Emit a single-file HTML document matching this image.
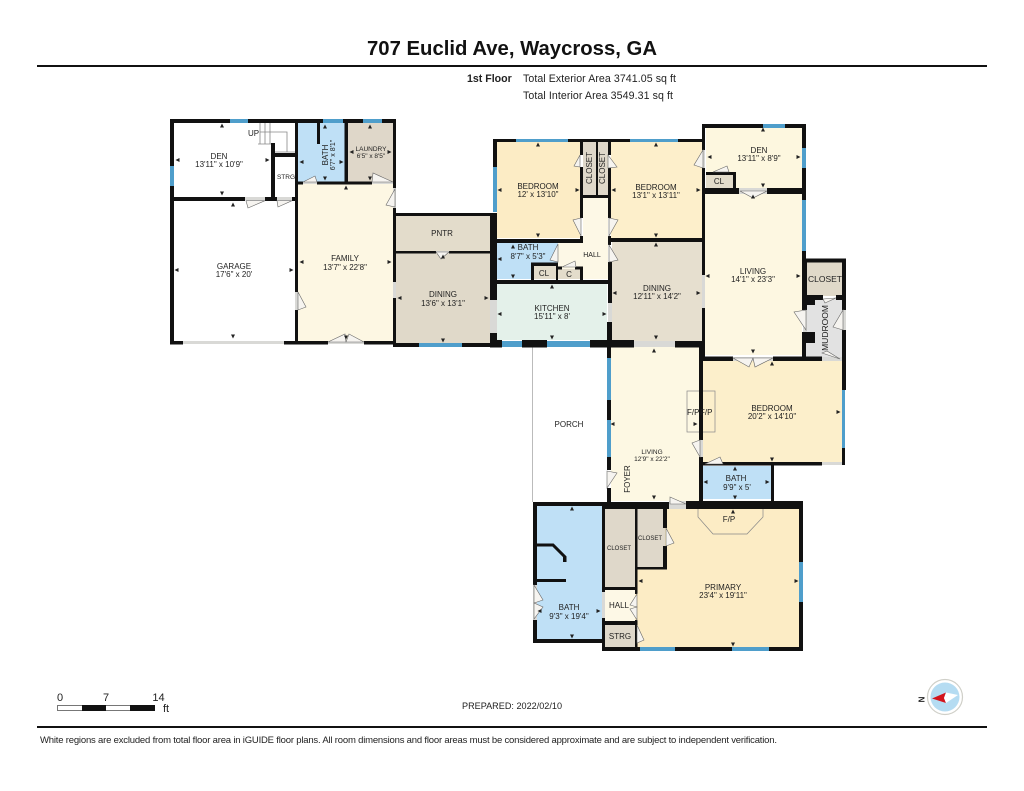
<!DOCTYPE html>
<html><head><meta charset="utf-8"><style>
html,body{margin:0;padding:0;background:#fff}
svg{display:block;filter:blur(.3px)}
text{font-family:"Liberation Sans",sans-serif;fill:#222;font-size:8px}
.c{text-anchor:middle}
.s{font-size:6.5px}
.d{fill:#f6f4f0;stroke:#666;stroke-width:.6}
.g{fill:#d9d9d6}
.b{fill:#4f9ecb}
</style></head><body>
<svg width="1024" height="791" viewBox="0 0 1024 791" xmlns="http://www.w3.org/2000/svg">
<defs>
<path id="u" d="M0-2.500L2 1.500H-2Z" fill="#222"/>
<path id="n" d="M0 2.500L2-1.500H-2Z" fill="#222"/>
<path id="l" d="M-2.500 0L1.500-2V2Z" fill="#222"/>
<path id="r" d="M2.500 0L-1.500-2V2Z" fill="#222"/>
</defs>
<text x="367" y="55" style="font-size:20.300px;font-weight:bold;fill:#111" textLength="290">707 Euclid Ave, Waycross, GA</text>
<rect x="37" y="65" width="950" height="2" fill="#111"/>
<text x="467" y="82" style="font-size:10.600px;font-weight:bold;fill:#222">1st Floor</text>
<text x="523" y="82" style="font-size:10.600px" textLength="153">Total Exterior Area 3741.05 sq ft</text>
<text x="523" y="99" style="font-size:10.600px" textLength="150">Total Interior Area 3549.31 sq ft</text>

<!-- room fills -->
<g>
<rect x="298" y="122" width="47" height="60" fill="#bfe0f6"/>
<rect x="348" y="122" width="45" height="60" fill="#dfd7c9"/>
<rect x="298" y="184" width="95" height="157" fill="#fdf7e3"/>
<rect x="396" y="216" width="94" height="35" fill="#e3dccb"/>
<rect x="396" y="253" width="94" height="90" fill="#e0d9c9"/>
<rect x="497" y="142" width="83" height="96" fill="#fcecc5"/>
<rect x="583" y="142" width="13" height="53" fill="#dfd8ca"/>
<rect x="598" y="142" width="10" height="53" fill="#dfd8ca"/>
<rect x="583" y="198" width="25" height="44" fill="#fdf8e6"/>
<rect x="558" y="240" width="50" height="39" fill="#fdf8e6"/>
<rect x="611" y="142" width="91" height="96" fill="#fdefcb"/>
<rect x="706" y="128" width="96" height="60" fill="#fdf7df"/>
<rect x="706" y="175" width="27" height="13" fill="#e3dccb"/>
<rect x="705" y="194" width="97" height="161" fill="#fdf7e1"/>
<rect x="806" y="262" width="36" height="34" fill="#e0d9c9"/>
<rect x="806" y="299" width="36" height="59" fill="#e2e2e2"/>
<rect x="497" y="242" width="61" height="37" fill="#bfe0f6"/>
<rect x="533" y="266" width="23" height="13" fill="#e3dccb"/>
<rect x="558" y="269" width="23" height="10" fill="#e3dccb"/>
<rect x="497" y="284" width="110" height="56" fill="#e4f1ea"/>
<rect x="612" y="242" width="90" height="99" fill="#e6dfcf"/>
<rect x="611" y="347" width="89" height="154" fill="#fdf8e3"/>
<rect x="703" y="361" width="139" height="101" fill="#fcefcb"/>
<rect x="703" y="466" width="68" height="33" fill="#bfe0f6"/>
<rect x="605" y="509" width="195" height="138" fill="#fcecc5"/>
<rect x="605" y="509" width="30" height="78" fill="#dfd8ca"/>
<rect x="635" y="509" width="30" height="59" fill="#dfd8ca"/>
<rect x="605" y="590" width="30" height="31" fill="#fdf8e6"/>
<rect x="605" y="625" width="30" height="22" fill="#dfd8ca"/>
<rect x="537" y="506" width="65" height="133" fill="#bfe0f6"/>
</g>

<!-- porch and stairs thin lines -->
<path d="M532.500 347V502" stroke="#bbb" stroke-width="1" fill="none"/>
<path d="M260 123V144M265 123V144M270 123V144M260 132H287V152M258 144H272M274 152H295" stroke="#888" stroke-width=".8" fill="none"/>
<rect x="687" y="391" width="28" height="41" fill="none" stroke="#888" stroke-width=".7"/>
<path d="M698 509V517L713 534H747L763 517V509" fill="none" stroke="#888" stroke-width=".7"/>

<!-- walls -->
<path fill="#111" d="
M170 119H230V123H170Z M248 119H323V123H248Z M343 119H363V123H343Z M382 119H396V123H382Z
M170 119H174V166H170Z M170 186H174V344H170Z
M170 197H245V201H170Z M265 197H277V201H265Z M292 197H298V201H292Z
M271 143H275V200H271Z M275 153H296V157H275Z
M295 119H298V292H295Z M295 310H298V344H295Z
M344.500 119H348V184H344.500Z M317 123H320V144H317Z
M298 181.500H303V184.500H298Z M317 181.500H372V184.500H317Z
M393 119H396V188H393Z M393 208H396V282H393Z M393 298H396V347H393Z
M170 341H183V344.500H170Z M284 341H328V344.500H284Z M364 341H396V344.500H364Z
M396 213H494V216H396Z M396 251H436V253.500H396Z M449 251H492V253.500H449Z
M490 213H497V300H490Z M490 333H497V347H490Z
M393 343H419V347H393Z M462 343H502V347H462Z
M493 139H516V142H493Z M568 139H630V142H568Z M678 139H705V142H678Z
M493 139H497V167H493Z
M580 139H583V155H580Z M580 167H583V218H580Z M580 236H583V243H580Z
M596 142H598V195H596Z M583 195H608V198H583Z
M608 139H611V155H608Z M608 168H611V218H608Z M608 236H611V245H608Z M608 262H612V303H608Z M607 322H612V345H607Z
M493 239H582V243H493Z M608 238H705V242H608Z
M702 124H705V150H702Z M702 168H705V275H702Z M702 308H705V357H702Z
M702 124H763V128H702Z M785 124H806V128H785Z
M802 124H806V148H802Z M802 168H806V200H802Z M802 251H806V310H802Z M802 332H806V358H802Z
M705 188H739V194H705Z M767 188H805V194H767Z
M706 172H736V175H706Z M733 172H736V188H733Z
M803 258.500H846V262.500H803Z M842 258.500H846V310H842Z M842 330H846V390H842Z
M803 258.500H807V310H803Z
M803 295H823V300H803Z M836 295H846V300H836Z
M803 295H815V305H803Z M803 332H815V343H803Z
M531 263H534V280H531Z M531 262.500H558V266H531Z M556 262.500H558V280H556Z
M558 266.500H562V269.500H558Z M575 266.500H583V269.500H575Z M580 266.500H583V280H580Z
M490 280H612V284H490Z
M490 340H502V347.500H490Z M522 340H547V347.500H522Z M590 340H634V347.500H590Z M675 341H705V347.500H675Z
M607 345H611V358H607Z M607 400H611V420H607Z M607 457H611V470H607Z M607 488H611V502H607Z
M699 345H703V440H699Z M699 457H703V501H699Z
M703 356.500H733V361H703Z M773 356.500H822V361H773Z
M842 448H845V465H842Z M703 462H822V465.500H703Z
M771 465H774V501H771Z
M533 502H669V506H533Z M602 502H669V509H602Z M686 501H803V509H686Z
M799 502H803V562H799Z M799 602H803V651H799Z
M602 647H640V651H602Z M675 647H732V651H675Z M769 647H803V651H769Z
M533 502H537V585H533Z M533 620H537V643H533Z M533 639H605V643H533Z
M602 502H605V592H602Z M602 618H605V651H602Z
M635 509H637.500V594H635Z M635 620H637.500V647H635Z
M663 509H667V528H663Z M663 546H667V569H663Z M635 567H667V569.500H635Z
M605 587H636V590H605Z M605 621H637V625H605Z
M537 579H566V582H537Z M563 557H566V562H563Z"/>
<path d="M537 545H553L565 557V562" fill="none" stroke="#111" stroke-width="3"/>

<!-- windows -->
<path class="b" d="M170 166H174V186H170Z M230 119H248V123H230Z M323 119H343V123H323Z M363 119H382V123H363Z
M419 343H462V347H419Z M516 139H568V142H516Z M630 139H678V142H630Z M493 167H497V212H493Z
M763 124H785V128H763Z M802 148H806V168H802Z M802 200H806V251H802Z
M502 341H522V347H502Z M547 341H590V347H547Z
M607 358H611V400H607Z M607 420H611V457H607Z M842 390H845V448H842Z
M799 562H803V602H799Z M640 647H675V651H640Z M732 647H769V651H732Z"/>

<!-- door openings -->
<path class="g" d="M245 197H265V200H245Z M277 197H292V200H277Z M303 182H317V184H303Z M372 182H393V184H372Z M393 188H396V208H393Z M295 292H298V310H295Z M328 341H364V344H328Z M183 341H284V344H183Z M393 282H396V298H393Z M490 300H497V333H490Z M436 251H449V253H436Z
M739 188H767V194H739Z M702 275H705V308H702Z M608 303H612V322H608Z M634 341H675V347H634Z M702 150H705V168H702Z
M733 357H773V361H733Z M822 357H842V361H822Z M822 462H842V465H822Z M699 440H703V457H699Z M669 501H686V509H669Z M602 592H605V618H602Z M533 585H537V620H533Z M803 310H807V332H803Z M842 310H846V330H842Z"/>

<!-- door leaves -->
<g>
<path class="d" d="M246 200.700L248 208L265 200.700Z"/>
<path class="d" d="M277 200.700L278 207L292 200.700Z"/>
<path class="d" d="M303 182L315 176L317 182Z"/>
<path class="d" d="M372 182L373 173L393 182Z"/>
<path class="d" d="M395 189L386 205L395 207Z"/>
<path class="d" d="M298 292L306 307L298 310Z"/>
<path class="d" d="M328 342L345 334L346 342Z"/>
<path class="d" d="M346 342L349 334L364 342Z"/>
<path class="d" d="M436 252L441 259L449 252Z"/>
<path class="d" d="M580 155L574 166L580 167Z"/>
<path class="d" d="M608 155L617 167L608 168Z"/>
<path class="d" d="M581 218L573 220L581 236Z"/>
<path class="d" d="M609 218L618 220L609 236Z"/>
<path class="d" d="M558 244L550 260L558 262Z"/>
<path class="d" d="M562 267L575 261L576 267Z"/>
<path class="d" d="M609 245L618 260L609 262Z"/>
<path class="d" d="M703 150L694 165L703 168Z"/>
<path class="d" d="M713 172L727 166L729 172Z"/>
<path class="d" d="M740 191L753 198L767 191Z"/>
<path class="d" d="M806 310L794 312L806 330Z"/>
<path class="d" d="M843 310L833 327L843 330Z"/>
<path class="d" d="M823 299L825 303L836 298Z"/>
<path class="d" d="M822 353L827 351L840 359Z"/>
<path class="d" d="M733 358L749 367L753 358Z"/>
<path class="d" d="M753 358L755 367L773 358Z"/>
<path class="d" d="M700 440L692 443L700 457Z"/>
<path class="d" d="M705 464L720 457L723 464Z"/>
<path class="d" d="M607 471L617 473L607 488Z"/>
<path class="d" d="M670 497L686 504L670 504Z"/>
<path class="d" d="M666 528L674 543L666 546Z"/>
<path class="d" d="M637 594L630 605L637 607Z"/>
<path class="d" d="M637 607L630 609L637 620Z"/>
<path class="d" d="M637 625L644 640L637 643Z"/>
<path class="d" d="M534 585L543 600L534 603Z"/>
<path class="d" d="M534 603L543 607L534 619Z"/>
</g>

<!-- dimension arrows -->
<g>
<use href="#u" x="222" y="126"/><use href="#n" x="222" y="193"/><use href="#l" x="178" y="160"/><use href="#r" x="267" y="160"/>
<use href="#u" x="233" y="205"/><use href="#n" x="233" y="336"/><use href="#l" x="177" y="270"/><use href="#r" x="291" y="270"/>
<use href="#u" x="325" y="127"/><use href="#n" x="325" y="178"/><use href="#l" x="302" y="162"/><use href="#r" x="341" y="162"/>
<use href="#u" x="370" y="127"/><use href="#n" x="370" y="178"/><use href="#l" x="352" y="152"/><use href="#r" x="389" y="152"/>
<use href="#u" x="346" y="188"/><use href="#n" x="346" y="337"/><use href="#l" x="302" y="262"/><use href="#r" x="389" y="262"/>
<use href="#u" x="443" y="257"/><use href="#n" x="443" y="340"/><use href="#l" x="400" y="298"/><use href="#r" x="486" y="298"/>
<use href="#u" x="538" y="145"/><use href="#n" x="538" y="235"/><use href="#l" x="500" y="190"/><use href="#r" x="577" y="190"/>
<use href="#u" x="656" y="145"/><use href="#n" x="656" y="235"/><use href="#l" x="614" y="190"/><use href="#r" x="698" y="190"/>
<use href="#u" x="763" y="130"/><use href="#n" x="763" y="185"/><use href="#l" x="710" y="157"/><use href="#r" x="798" y="157"/>
<use href="#u" x="753" y="197"/><use href="#n" x="753" y="351"/><use href="#l" x="708" y="276"/><use href="#r" x="798" y="276"/>
<use href="#u" x="513" y="247"/><use href="#n" x="513" y="276"/><use href="#l" x="500" y="259"/>
<use href="#u" x="552" y="287"/><use href="#n" x="552" y="337"/><use href="#l" x="500" y="314"/><use href="#r" x="604" y="314"/>
<use href="#u" x="656" y="245"/><use href="#n" x="656" y="337"/><use href="#l" x="615" y="293"/><use href="#r" x="698" y="293"/>
<use href="#u" x="654" y="351"/><use href="#n" x="654" y="497"/><use href="#l" x="613" y="424"/><use href="#r" x="695" y="424"/>
<use href="#u" x="772" y="364"/><use href="#n" x="772" y="459"/><use href="#r" x="838" y="412"/>
<use href="#u" x="735" y="469"/><use href="#n" x="735" y="497"/><use href="#l" x="706" y="482"/><use href="#r" x="767" y="482"/>
<use href="#u" x="733" y="512"/><use href="#n" x="733" y="644"/><use href="#l" x="641" y="581"/><use href="#r" x="796" y="581"/>
<use href="#u" x="572" y="509"/><use href="#n" x="572" y="636"/><use href="#l" x="540" y="611"/><use href="#r" x="598" y="611"/>
</g>

<!-- labels -->
<g>
<text class="c" x="219" y="159">DEN</text><text class="c" x="219" y="167">13'11" x 10'9"</text>
<text x="248" y="136">UP</text>
<text class="c s" x="286" y="179">STRG</text>
<text class="c" transform="translate(328 155) rotate(-90)">BATH</text><text class="c s" style="font-size:7px" transform="translate(335 155) rotate(-90)">6'7" x 8'1"</text>
<text class="c s" x="371" y="151">LAUNDRY</text><text class="c s" x="371" y="158">6'5" x 8'5"</text>
<text class="c" x="234" y="269">GARAGE</text><text class="c" x="234" y="277">17'6" x 20'</text>
<text class="c" x="345" y="261">FAMILY</text><text class="c" x="345" y="270">13'7" x 22'8"</text>
<text class="c" x="442" y="236">PNTR</text>
<text class="c" x="443" y="297">DINING</text><text class="c" x="443" y="306">13'6" x 13'1"</text>
<text class="c" x="538" y="189">BEDROOM</text><text class="c" x="538" y="197">12' x 13'10"</text>
<text class="c" transform="translate(592 168) rotate(-90)">CLOSET</text>
<text class="c" transform="translate(605 168) rotate(-90)">CLOSET</text>
<text class="c" x="656" y="190">BEDROOM</text><text class="c" x="656" y="198">13'1" x 13'11"</text>
<text class="c" x="759" y="153">DEN</text><text class="c" x="759" y="161">13'11" x 8'9"</text>
<text class="c" x="719" y="184">CL</text>
<text class="c s" style="font-size:7px" x="592" y="257">HALL</text>
<text class="c" x="528" y="250">BATH</text><text class="c" x="528" y="259">8'7" x 5'3"</text>
<text class="c" x="544" y="276">CL</text><text class="c" x="569" y="277">C</text>
<text class="c" x="552" y="311">KITCHEN</text><text class="c" x="552" y="319">15'11" x 8'</text>
<text class="c" x="657" y="291">DINING</text><text class="c" x="657" y="299">12'11" x 14'2"</text>
<text class="c" x="753" y="274">LIVING</text><text class="c" x="753" y="282">14'1" x 23'3"</text>
<text class="c" style="font-size:8.500px" x="825" y="282">CLOSET</text>
<text class="c" style="font-size:8.500px" transform="translate(828 328) rotate(-90)">MUDROOM</text>
<text class="c" x="569" y="427">PORCH</text>
<text class="c s" x="652" y="454">LIVING</text><text class="c s" x="652" y="461">12'9" x 22'2"</text>
<text class="c" transform="translate(630 479) rotate(-90)">FOYER</text>
<text x="687" y="415">F/P</text><text x="700" y="415">F/P</text>
<text class="c" x="772" y="411">BEDROOM</text><text class="c" x="772" y="419">20'2" x 14'10"</text>
<text class="c" x="736" y="481">BATH</text><text class="c" x="737" y="490">9'9" x 5'</text>
<text class="c" x="729" y="522">F/P</text>
<text class="c" style="font-size:6px" x="650" y="540">CLOSET</text>
<text class="c" style="font-size:6px" x="619" y="550">CLOSET</text>
<text class="c" x="723" y="590">PRIMARY</text><text class="c" x="723" y="598">23'4" x 19'11"</text>
<text class="c" x="619" y="608">HALL</text>
<text class="c" x="620" y="639">STRG</text>
<text class="c" x="569" y="610">BATH</text><text class="c" x="569" y="619">9'3" x 19'4"</text>
</g>

<!-- scale -->
<rect x="57.500" y="705.500" width="97" height="5" fill="#fff" stroke="#555" stroke-width=".8"/>
<rect x="82" y="705" width="24" height="6" fill="#111"/><rect x="130" y="705" width="25" height="6" fill="#111"/>
<text class="c" style="font-size:11px" x="60" y="701">0</text>
<text class="c" style="font-size:11px" x="106" y="701">7</text>
<text class="c" style="font-size:11px" x="158.500" y="701">14</text>
<text style="font-size:11px" x="163" y="712">ft</text>
<text x="462" y="709" style="font-size:9.100px" textLength="100">PREPARED: 2022/02/10</text>

<!-- compass -->
<circle cx="945" cy="697" r="17.500" fill="#fff" stroke="#cfcfc8" stroke-width="1.200"/>
<circle cx="945" cy="697" r="14.500" fill="#b5dcf2"/>
<path d="M932 698.500L946 692.500L944 698L946 703Z" fill="#d3141c"/>
<path d="M946 692.500L958 695L946 703L944 698Z" fill="#fff"/>
<text style="font-size:8px;font-weight:bold" transform="translate(924.500 699.500) rotate(-90)" class="c">N</text>

<rect x="37" y="726" width="950" height="2" fill="#111"/>
<text x="40" y="743" style="font-size:9.500px" textLength="737">White regions are excluded from total floor area in iGUIDE floor plans. All room dimensions and floor areas must be considered approximate and are subject to independent verification.</text>
</svg>
</body></html>
